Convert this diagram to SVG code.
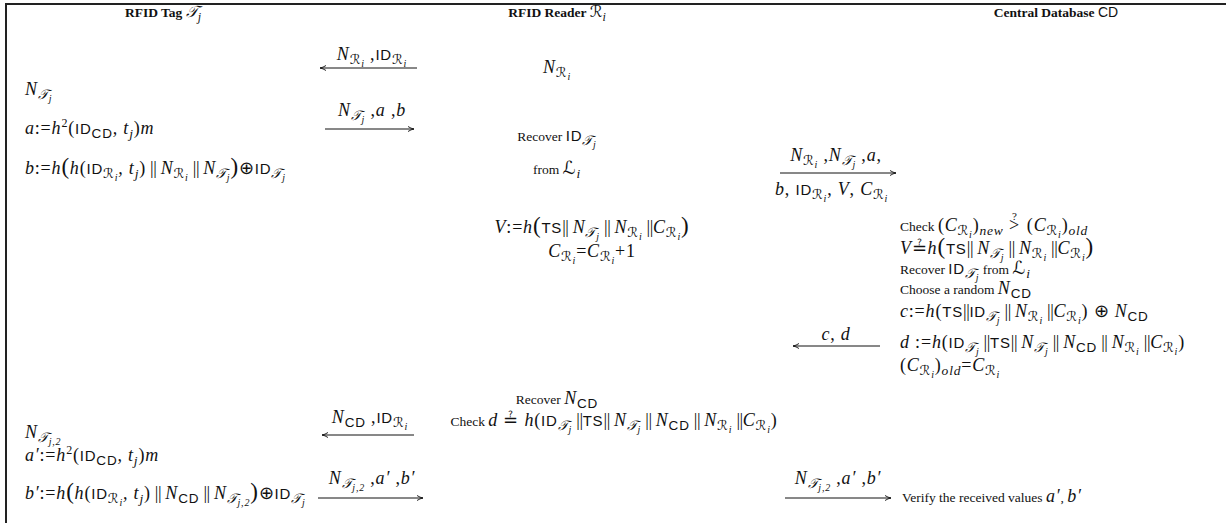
<svg xmlns="http://www.w3.org/2000/svg" width="1226" height="523" viewBox="0 0 1226 523">
<style>
text{font-family:"Liberation Serif",serif;font-size:18px;fill:#111;letter-spacing:0.8px}
.rm{font-style:normal;font-size:13.5px;letter-spacing:0}
.bf{font-weight:bold;font-size:13.5px;letter-spacing:0}
.mi{font-style:italic}
.up{font-style:normal}
.pp{font-style:normal;letter-spacing:-0.4px}
.sf{font-family:"Liberation Sans",sans-serif;font-style:normal;font-size:15px}
.cal{font-family:"DejaVu Serif","DejaVu Sans",serif;font-style:italic}
.sb{font-size:13.5px;baseline-shift:-4px}
.sb2{font-size:10px;baseline-shift:-2.5px}
.sp{font-size:12px;baseline-shift:7px}
.big{font-size:23px;font-style:normal}
.q{font-size:11px;font-style:normal;baseline-shift:11.5px}
.ln{stroke:#111;stroke-width:1;fill:none}
.frame{stroke:#222;stroke-width:2;fill:none}
</style>
<defs>
<marker id="ah" viewBox="0 0 8 8" refX="7" refY="4" markerWidth="8" markerHeight="8" markerUnits="userSpaceOnUse" orient="auto-start-reverse">
<path d="M1,1.5 Q4,3.5 7,4 Q4,4.5 1,6.5" fill="none" stroke="#111" stroke-width="0.9"/>
</marker>
</defs>
<path class="frame" d="M6,523 V4 H1226"/>

<g id="headers">
<text x="163" y="17" text-anchor="middle" style="font-size:16px;letter-spacing:0"><tspan class="bf">RFID Tag </tspan><tspan class="cal">𝒯</tspan><tspan class="mi" style="font-size:12px;baseline-shift:-4px">j</tspan></text>
<text x="557" y="17" text-anchor="middle" style="font-size:16px;letter-spacing:0"><tspan class="bf">RFID Reader </tspan><tspan class="cal">ℛ</tspan><tspan class="mi" style="font-size:12px;baseline-shift:-4px">i</tspan></text>
<text x="1056" y="17" text-anchor="middle" style="letter-spacing:0"><tspan class="bf">Central Database </tspan><tspan class="sf" style="font-size:14px">CD</tspan></text>
</g>

<g id="tag">
<text x="25" y="95" class="mi">N<tspan class="sb"><tspan class="cal">𝒯</tspan><tspan class="sb2">j</tspan></tspan></text>
<text x="25" y="134" class="mi">a<tspan class="up">:=</tspan>h<tspan class="sp up">2</tspan><tspan class="up">(</tspan><tspan class="sf">ID</tspan><tspan class="sb sf">CD</tspan>, t<tspan class="sb">j</tspan><tspan class="up">)</tspan>m</text>
<text x="25" y="174" class="mi">b<tspan class="up">:=</tspan>h<tspan class="big">(</tspan>h<tspan class="up">(</tspan><tspan class="sf">ID</tspan><tspan class="sb"><tspan class="cal">ℛ</tspan><tspan class="sb2">i</tspan></tspan>, t<tspan class="sb">j</tspan><tspan class="up">)</tspan><tspan class="pp"> || </tspan>N<tspan class="sb"><tspan class="cal">ℛ</tspan><tspan class="sb2">i</tspan></tspan><tspan class="pp"> || </tspan>N<tspan class="sb"><tspan class="cal">𝒯</tspan><tspan class="sb2">j</tspan></tspan><tspan class="big">)</tspan><tspan class="up">⊕</tspan><tspan class="sf">ID</tspan><tspan class="sb"><tspan class="cal">𝒯</tspan><tspan class="sb2">j</tspan></tspan></text>
<text x="25" y="438" class="mi">N<tspan class="sb"><tspan class="cal">𝒯</tspan><tspan class="sb2">j,2</tspan></tspan></text>
<text x="25" y="461" class="mi">a′<tspan class="up">:=</tspan>h<tspan class="sp up">2</tspan><tspan class="up">(</tspan><tspan class="sf">ID</tspan><tspan class="sb sf">CD</tspan>, t<tspan class="sb">j</tspan><tspan class="up">)</tspan>m</text>
<text x="25" y="499" class="mi">b′<tspan class="up">:=</tspan>h<tspan class="big">(</tspan>h<tspan class="up">(</tspan><tspan class="sf">ID</tspan><tspan class="sb"><tspan class="cal">ℛ</tspan><tspan class="sb2">i</tspan></tspan>, t<tspan class="sb">j</tspan><tspan class="up">)</tspan><tspan class="pp"> || </tspan>N<tspan class="sb sf">CD</tspan><tspan class="pp"> || </tspan>N<tspan class="sb"><tspan class="cal">𝒯</tspan><tspan class="sb2">j,2</tspan></tspan><tspan class="big">)</tspan><tspan class="up">⊕</tspan><tspan class="sf">ID</tspan><tspan class="sb"><tspan class="cal">𝒯</tspan><tspan class="sb2">j</tspan></tspan></text>
</g>

<g id="reader">
<text x="557" y="73" text-anchor="middle" class="mi">N<tspan class="sb"><tspan class="cal">ℛ</tspan><tspan class="sb2">i</tspan></tspan></text>
<text x="557" y="141" text-anchor="middle"><tspan class="rm">Recover </tspan><tspan class="sf">ID</tspan><tspan class="sb"><tspan class="cal">𝒯</tspan><tspan class="sb2 mi">j</tspan></tspan></text>
<text x="557" y="174" text-anchor="middle"><tspan class="rm">from </tspan><tspan class="cal">ℒ</tspan><tspan class="sb mi">i</tspan></text>
<text x="592" y="233" text-anchor="middle" class="mi">V<tspan class="up">:=</tspan>h<tspan class="big">(</tspan><tspan class="sf">TS</tspan><tspan class="pp">|| </tspan>N<tspan class="sb"><tspan class="cal">𝒯</tspan><tspan class="sb2">j</tspan></tspan><tspan class="pp"> || </tspan>N<tspan class="sb"><tspan class="cal">ℛ</tspan><tspan class="sb2">i</tspan></tspan><tspan class="pp"> ||</tspan>C<tspan class="sb"><tspan class="cal">ℛ</tspan><tspan class="sb2">i</tspan></tspan><tspan class="big">)</tspan></text>
<text x="592" y="257" text-anchor="middle" class="mi">C<tspan class="sb"><tspan class="cal">ℛ</tspan><tspan class="sb2">i</tspan></tspan><tspan class="up">=</tspan>C<tspan class="sb"><tspan class="cal">ℛ</tspan><tspan class="sb2">i</tspan></tspan><tspan class="up">+1</tspan></text>
<text x="557" y="404" text-anchor="middle"><tspan class="rm">Recover </tspan><tspan class="mi">N</tspan><tspan class="sb sf">CD</tspan></text>
<text x="614" y="426" text-anchor="middle" class="mi"><tspan class="rm">Check </tspan>d <tspan class="up">≟</tspan> h<tspan class="up">(</tspan><tspan class="sf">ID</tspan><tspan class="sb"><tspan class="cal">𝒯</tspan><tspan class="sb2">j</tspan></tspan><tspan class="pp"> ||</tspan><tspan class="sf">TS</tspan><tspan class="pp">|| </tspan>N<tspan class="sb"><tspan class="cal">𝒯</tspan><tspan class="sb2">j</tspan></tspan><tspan class="pp"> || </tspan>N<tspan class="sb sf">CD</tspan><tspan class="pp"> || </tspan>N<tspan class="sb"><tspan class="cal">ℛ</tspan><tspan class="sb2">i</tspan></tspan><tspan class="pp"> ||</tspan>C<tspan class="sb"><tspan class="cal">ℛ</tspan><tspan class="sb2">i</tspan></tspan><tspan class="up">)</tspan></text>
</g>

<g id="database">
<text x="900" y="231" class="mi"><tspan class="rm">Check </tspan><tspan class="up">(</tspan>C<tspan class="sb"><tspan class="cal">ℛ</tspan><tspan class="sb2">i</tspan></tspan><tspan class="up">)</tspan><tspan class="sb">new</tspan> <tspan class="up">&gt;</tspan><tspan class="q" dx="-8">?</tspan><tspan class="up" dx="4"> (</tspan>C<tspan class="sb"><tspan class="cal">ℛ</tspan><tspan class="sb2">i</tspan></tspan><tspan class="up">)</tspan><tspan class="sb">old</tspan></text>
<text x="900" y="254" class="mi">V<tspan class="up">≟</tspan>h<tspan class="big">(</tspan><tspan class="sf">TS</tspan><tspan class="pp">|| </tspan>N<tspan class="sb"><tspan class="cal">𝒯</tspan><tspan class="sb2">j</tspan></tspan><tspan class="pp"> || </tspan>N<tspan class="sb"><tspan class="cal">ℛ</tspan><tspan class="sb2">i</tspan></tspan><tspan class="pp"> ||</tspan>C<tspan class="sb"><tspan class="cal">ℛ</tspan><tspan class="sb2">i</tspan></tspan><tspan class="big">)</tspan></text>
<text x="900" y="274"><tspan class="rm">Recover </tspan><tspan class="sf">ID</tspan><tspan class="sb"><tspan class="cal">𝒯</tspan><tspan class="sb2 mi">j</tspan></tspan><tspan class="rm">  from </tspan><tspan class="cal">ℒ</tspan><tspan class="sb mi">i</tspan></text>
<text x="900" y="294"><tspan class="rm">Choose a random </tspan><tspan class="mi">N</tspan><tspan class="sb sf">CD</tspan></text>
<text x="900" y="317" class="mi">c<tspan class="up">:=</tspan>h<tspan class="up">(</tspan><tspan class="sf">TS</tspan><tspan class="pp">||</tspan><tspan class="sf">ID</tspan><tspan class="sb"><tspan class="cal">𝒯</tspan><tspan class="sb2">j</tspan></tspan><tspan class="pp"> || </tspan>N<tspan class="sb"><tspan class="cal">ℛ</tspan><tspan class="sb2">i</tspan></tspan><tspan class="pp"> ||</tspan>C<tspan class="sb"><tspan class="cal">ℛ</tspan><tspan class="sb2">i</tspan></tspan><tspan class="up">) ⊕ </tspan>N<tspan class="sb sf">CD</tspan></text>
<text x="900" y="348" class="mi">d <tspan class="up">:=</tspan>h<tspan class="up">(</tspan><tspan class="sf">ID</tspan><tspan class="sb"><tspan class="cal">𝒯</tspan><tspan class="sb2">j</tspan></tspan><tspan class="pp"> ||</tspan><tspan class="sf">TS</tspan><tspan class="pp">|| </tspan>N<tspan class="sb"><tspan class="cal">𝒯</tspan><tspan class="sb2">j</tspan></tspan><tspan class="pp"> || </tspan>N<tspan class="sb sf">CD</tspan><tspan class="pp"> || </tspan>N<tspan class="sb"><tspan class="cal">ℛ</tspan><tspan class="sb2">i</tspan></tspan><tspan class="pp"> ||</tspan>C<tspan class="sb"><tspan class="cal">ℛ</tspan><tspan class="sb2">i</tspan></tspan><tspan class="up">)</tspan></text>
<text x="900" y="371" class="mi"><tspan class="up">(</tspan>C<tspan class="sb"><tspan class="cal">ℛ</tspan><tspan class="sb2">i</tspan></tspan><tspan class="up">)</tspan><tspan class="sb">old</tspan><tspan class="up">=</tspan>C<tspan class="sb"><tspan class="cal">ℛ</tspan><tspan class="sb2">i</tspan></tspan></text>
<text x="902" y="502"><tspan class="rm">Verify the received values </tspan><tspan class="mi">a′</tspan><tspan class="rm">, </tspan><tspan class="mi">b′</tspan></text>
</g>

<g id="connectors">
<line class="ln" x1="417" y1="68" x2="320" y2="68" marker-end="url(#ah)"/>
<text x="372" y="60" text-anchor="middle" class="mi">N<tspan class="sb"><tspan class="cal">ℛ</tspan><tspan class="sb2">i</tspan></tspan><tspan class="up"> ,</tspan><tspan class="sf">ID</tspan><tspan class="sb"><tspan class="cal">ℛ</tspan><tspan class="sb2">i</tspan></tspan></text>
<line class="ln" x1="325" y1="129" x2="414" y2="129" marker-end="url(#ah)"/>
<text x="372" y="116" text-anchor="middle" class="mi">N<tspan class="sb"><tspan class="cal">𝒯</tspan><tspan class="sb2">j</tspan></tspan><tspan class="up"> ,</tspan>a<tspan class="up"> ,</tspan>b</text>
<line class="ln" x1="780" y1="173" x2="896" y2="173" marker-end="url(#ah)"/>
<text x="836" y="161" text-anchor="middle" class="mi">N<tspan class="sb"><tspan class="cal">ℛ</tspan><tspan class="sb2">i</tspan></tspan><tspan class="up"> ,</tspan>N<tspan class="sb"><tspan class="cal">𝒯</tspan><tspan class="sb2">j</tspan></tspan><tspan class="up"> ,</tspan>a<tspan class="up">,</tspan></text>
<text x="775" y="195" class="mi">b<tspan class="up">, </tspan><tspan class="sf">ID</tspan><tspan class="sb"><tspan class="cal">ℛ</tspan><tspan class="sb2">i</tspan></tspan><tspan class="up">, </tspan>V<tspan class="up">, </tspan>C<tspan class="sb"><tspan class="cal">ℛ</tspan><tspan class="sb2">i</tspan></tspan></text>
<line class="ln" x1="880" y1="346" x2="793" y2="346" marker-end="url(#ah)"/>
<text x="836" y="340" text-anchor="middle" class="mi">c<tspan class="up">, </tspan>d</text>
<line class="ln" x1="414" y1="435" x2="322" y2="435" marker-end="url(#ah)"/>
<text x="370" y="423" text-anchor="middle" class="mi">N<tspan class="sb sf">CD</tspan><tspan class="up"> ,</tspan><tspan class="sf">ID</tspan><tspan class="sb"><tspan class="cal">ℛ</tspan><tspan class="sb2">i</tspan></tspan></text>
<line class="ln" x1="318" y1="498" x2="423" y2="498" marker-end="url(#ah)"/>
<text x="372" y="484" text-anchor="middle" class="mi">N<tspan class="sb"><tspan class="cal">𝒯</tspan><tspan class="sb2">j,2</tspan></tspan><tspan class="up"> ,</tspan>a′<tspan class="up"> ,</tspan>b′</text>
<line class="ln" x1="785" y1="498" x2="891" y2="498" marker-end="url(#ah)"/>
<text x="838" y="484" text-anchor="middle" class="mi">N<tspan class="sb"><tspan class="cal">𝒯</tspan><tspan class="sb2">j,2</tspan></tspan><tspan class="up"> ,</tspan>a′<tspan class="up"> ,</tspan>b′</text>
</g>
</svg>
